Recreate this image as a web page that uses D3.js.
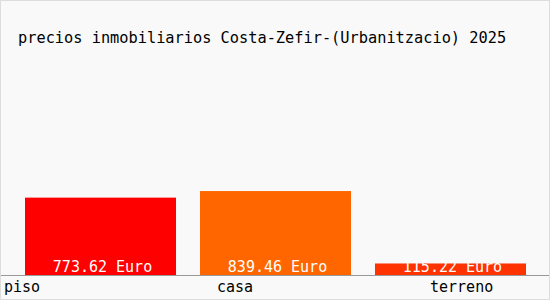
<!DOCTYPE html>
<html>
<head>
<meta charset="utf-8">
<script src="https://cdn.jsdelivr.net/npm/d3@7"></script>
<style>
  html, body { margin: 0; padding: 0; background: #fff; }
  svg text { font-family: "DejaVu Sans Mono", monospace; }
</style>
</head>
<body>
<svg id="chart"></svg>
<script>
const title = 'precios inmobiliarios Costa-Zefir-(Urbanitzacio) 2025';
const categories = ['piso', 'casa', 'terreno'];
const prices = [773.62, 839.46, 115.22];
const barColors = ['#ff0000', '#ff6600', '#ff3300'];
const unit = 'Euro';

const fullWidth = 550;
const fullHeight = 300;
const baseline = 275;

const svg = d3.select('#chart')
    .attr('width', fullWidth)
    .attr('height', fullHeight);

svg.append('rect')
    .attr('x', 0.5).attr('y', 0.5)
    .attr('width', fullWidth - 1).attr('height', fullHeight - 1)
    .attr('fill', '#f9f9f9')
    .attr('stroke', '#dddddd');

svg.append('text')
    .attr('x', 18).attr('y', 43)
    .attr('font-size', 15.3)
    .attr('fill', '#000')
    .text(title);

const xScale = d3.scaleBand()
    .domain(categories)
    .range([25, 526])
    .paddingInner(0.137)
    .paddingOuter(0);

const yScale = d3.scaleLinear()
    .domain([0, 1000])
    .range([baseline, 175]);

// category labels are not placed on the bar centres in the original
const labelScale = d3.scalePoint()
    .domain(categories)
    .range([4, 430]);

const data = categories.map((c, i) => ({name: c, value: prices[i], color: barColors[i]}));

const bar = svg.selectAll('.bar').data(data)
    .enter().append('g')
        .attr('class', 'bar');

bar.append('rect')
    .attr('x', d => xScale(d.name))
    .attr('y', d => yScale(d.value))
    .attr('width', xScale.bandwidth())
    .attr('height', d => baseline - yScale(d.value))
    .attr('fill', d => d.color);

bar.append('text')
    .attr('x', d => xScale(d.name) + xScale.bandwidth() / 2 + 2)
    .attr('y', baseline - 3)
    .attr('text-anchor', 'middle')
    .attr('font-size', 15)
    .attr('fill', '#ffffff')
    .text(d => `${d3.format('.2f')(d.value)} ${unit}`);

svg.append('line')
    .attr('x1', 1).attr('x2', fullWidth - 1)
    .attr('y1', baseline + 0.5).attr('y2', baseline + 0.5)
    .attr('stroke', '#999999');

svg.selectAll('.label').data(data)
    .enter().append('text')
        .attr('class', 'label')
        .attr('x', d => labelScale(d.name))
        .attr('y', 292)
        .attr('font-size', 15)
        .attr('fill', '#000')
        .text(d => d.name);
</script>
</body>
</html>
